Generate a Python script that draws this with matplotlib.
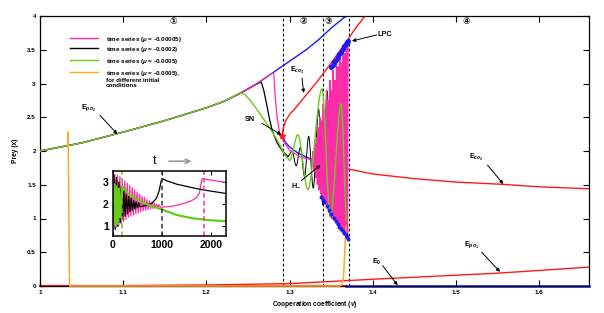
import matplotlib
matplotlib.use('Agg')
import matplotlib.pyplot as plt
from matplotlib.path import Path
from matplotlib.patches import PathPatch
from matplotlib.lines import Line2D

plt.rcParams['font.family'] = ['Liberation Sans', 'DejaVu Sans']
plt.rcParams['font.weight'] = 'bold'
plt.rcParams['mathtext.fontset'] = 'custom'
plt.rcParams['mathtext.rm'] = 'Liberation Sans:bold'
plt.rcParams['mathtext.it'] = 'Liberation Sans:bold:italic'
plt.rcParams['mathtext.bf'] = 'Liberation Sans:bold'

PINK = '#ff2ca8'
GREEN = '#66cc1a'
ORANGE = '#ffaa22'
BLUE = '#1a1aff'
RED = '#ff1a1a'

# equilibrium branches (cooperation coefficient, prey)
epo2_x = [1.0, 1.05, 1.1, 1.15, 1.2, 1.22, 1.24, 1.26, 1.28, 1.3, 1.32, 1.335, 1.35, 1.368, 1.38]
epo2_y = [2.0, 2.12, 2.28, 2.45, 2.64, 2.73, 2.85, 2.99, 3.16, 3.33, 3.5, 3.65, 3.82, 4.0, 4.13]

eco_up_x = [1.291, 1.292, 1.295, 1.3, 1.308, 1.32, 1.332, 1.345, 1.355, 1.363, 1.37, 1.38, 1.392, 1.40]
eco_up_y = [2.22, 2.32, 2.44, 2.54, 2.65, 2.83, 3.01, 3.22, 3.39, 3.53, 3.65, 3.83, 4.02, 4.15]

eco_low_x = [1.291, 1.295, 1.3, 1.31, 1.32, 1.33, 1.337]
eco_low_y = [2.22, 2.13, 2.06, 1.97, 1.91, 1.86, 1.83]

eco2_x = [1.337, 1.35, 1.368, 1.4, 1.45, 1.5, 1.55, 1.6, 1.66]
eco2_y = [1.83, 1.79, 1.74, 1.66, 1.59, 1.54, 1.51, 1.47, 1.44]

epo1_x = [1.0, 1.1, 1.2, 1.3, 1.4, 1.5, 1.55, 1.6, 1.66]
epo1_y = [0.0, 0.005, 0.015, 0.035, 0.1, 0.16, 0.19, 0.23, 0.28]

e0_red_x = [1.0, 1.368]
e0_blue_x = [1.368, 1.66]

sn_x, sn_y = 1.291, 2.22
dashed_x = [1.292, 1.340, 1.371]

# limit cycle extrema (blue dots)
lc_low_x = [1.338, 1.34, 1.342, 1.345, 1.347, 1.35, 1.353, 1.356, 1.358, 1.36, 1.362, 1.364, 1.366, 1.368, 1.369, 1.37]
lc_low_y = [1.32, 1.28, 1.24, 1.18, 1.13, 1.07, 1.01, 0.96, 0.92, 0.88, 0.85, 0.82, 0.79, 0.76, 0.73, 0.7]
lc_up_x = [1.35, 1.352, 1.354, 1.356, 1.358, 1.36, 1.362, 1.364, 1.366, 1.368, 1.369, 1.37]
lc_up_y = [3.25, 3.28, 3.32, 3.35, 3.39, 3.43, 3.47, 3.51, 3.55, 3.59, 3.61, 3.63]

# time series, mu = -0.00005 (pink)
pink_leave = 1.281
pink_drop_x = [1.281, 1.2825, 1.285, 1.288, 1.292, 1.3, 1.313, 1.3265]
pink_drop_y = [3.15, 2.85, 2.5, 2.27, 2.16, 2.01, 1.91, 1.87]
pink_osc_x = [1.3265, 1.3275, 1.3285, 1.3295, 1.3305, 1.3315, 1.3325, 1.3335, 1.3345, 1.3355,
              1.3365, 1.3375, 1.3385, 1.3395, 1.3405, 1.3415, 1.3425, 1.3435, 1.3445, 1.3455,
              1.3465, 1.3475, 1.3485, 1.3495, 1.3505, 1.3515, 1.3525, 1.3535, 1.3545, 1.3555,
              1.3565, 1.3575, 1.3585, 1.3595, 1.3605, 1.3615, 1.3625, 1.3635, 1.3645, 1.3655,
              1.3665, 1.3675, 1.3685, 1.3695, 1.3705]
pink_osc_y = [1.87, 1.8, 2.0, 1.7, 2.1, 1.6, 2.2, 1.5, 2.35, 1.42, 2.5, 1.36, 2.45, 1.3, 2.7,
              1.25, 2.6, 1.2, 2.9, 1.14, 2.75, 1.08, 3.05, 1.04, 2.9, 1.0, 3.2, 0.97, 3.05, 0.93,
              3.35, 0.9, 3.25, 0.87, 3.45, 0.84, 3.3, 0.8, 3.55, 0.78, 3.45, 0.75, 3.6, 0.72, 3.64]

# time series, mu = -0.0002 (black)
black_leave = 1.262
black_drop_x = [1.262, 1.266, 1.269, 1.273, 1.276, 1.279, 1.285, 1.292, 1.298]
black_drop_y = [3.0, 3.02, 2.9, 2.66, 2.47, 2.31, 2.12, 1.99, 1.92]
black_osc_x = [1.298, 1.303, 1.308, 1.313, 1.318, 1.323, 1.3285, 1.335, 1.340, 1.345,
               1.351, 1.357, 1.360, 1.363, 1.3655, 1.368, 1.37]
black_osc_y = [1.92, 2.0, 1.78, 2.05, 1.62, 2.22, 1.45, 2.62, 1.2, 2.89,
               1.0, 3.14, 0.9, 3.3, 0.82, 3.45, 0.76]

# time series, mu = -0.0005 (green)
green_leave = 1.24
green_drop_x = [1.24, 1.246, 1.252, 1.258, 1.264, 1.269, 1.274, 1.28, 1.287, 1.294, 1.30]
green_drop_y = [2.86, 2.84, 2.76, 2.66, 2.56, 2.47, 2.38, 2.27, 2.12, 1.95, 1.86]
green_osc_x = [1.30, 1.31, 1.322, 1.339, 1.349, 1.362, 1.369]
green_osc_y = [1.86, 2.24, 1.43, 2.92, 1.02, 2.7, 0.95]

# time series, other initial conditions (orange)
orange_x = [1.0335, 1.0338, 1.0355, 1.36, 1.363, 1.365, 1.366, 1.367, 1.368]
orange_y = [2.08, 2.28, 0.0, 0.0, 0.02, 0.15, 0.4, 0.7, 0.89]

# inset: time series against t
ins_pink_t = [0, 15, 40, 65, 90, 115, 140, 165, 190, 215, 240, 265, 290, 315, 340, 365, 390,
              415, 440, 465, 490, 515, 540, 565, 590, 615, 640, 665, 690, 715, 740, 765, 790,
              815, 840, 865, 890, 915, 940, 965, 1000, 1200, 1400, 1600, 1700, 1760, 1790,
              1815, 1900, 2100, 2300]
ins_pink_y = [2.0, 0.9, 3.35, 0.95, 3.3, 1.0, 3.25, 1.1, 3.15, 1.2, 3.05, 1.3, 2.95, 1.4, 2.85,
              1.45, 2.75, 1.5, 2.65, 1.55, 2.55, 1.6, 2.45, 1.65, 2.35, 1.7, 2.3, 1.72, 2.2, 1.75,
              2.15, 1.78, 2.1, 1.8, 2.05, 1.82, 2.0, 1.84, 1.97, 1.85, 1.86, 1.9, 2.0, 2.15, 2.3,
              2.5, 2.9, 3.15, 3.12, 3.05, 2.98]
ins_black_t = [0, 20, 45, 70, 95, 120, 145, 170, 195, 220, 245, 270, 295, 320, 345, 370, 395,
               420, 445, 470, 495, 520, 545, 600, 700, 800, 880, 940, 980, 1000, 1100, 1300,
               1500, 1700, 1900, 2100, 2300]
ins_black_y = [1.5, 3.3, 0.85, 3.2, 1.0, 3.0, 1.15, 2.8, 1.3, 2.6, 1.45, 2.45, 1.55, 2.35, 1.65,
               2.25, 1.72, 2.15, 1.78, 2.1, 1.83, 2.05, 1.87, 1.9, 1.95, 2.05, 2.25, 2.6, 3.05,
               3.15, 3.05, 2.9, 2.8, 2.7, 2.62, 2.55, 2.48]
ins_green_t = [0, 20, 45, 70, 95, 120, 145, 190, 250, 350, 500, 700, 1000, 1300, 1600, 2000, 2300]
ins_green_y = [2.0, 2.9, 1.0, 2.8, 1.1, 2.7, 1.4, 2.8, 2.65, 2.4, 2.18, 1.98, 1.75, 1.5, 1.36, 1.26, 1.22]
ins_dash_t = [190, 1000, 1850]

legend_labels = ['time series ($\\mu$ = -0.00005)', 'time series ($\\mu$ = -0.0002)',
                 'time series ($\\mu$ = -0.0005)',
                 'time series ($\\mu$ = -0.0005),\nfor different initial\nconditions']
region_labels = ['\u2460', '\u2461', '\u2462', '\u2463']
region_x = [1.16, 1.317, 1.347, 1.512]


def wave(ax, xs, ys, color, lw, z):
    # smooth oscillation through turning points (flat tangents at each extreme)
    verts = [(xs[0], ys[0])]
    codes = [Path.MOVETO]
    for i in range(1, len(xs)):
        dx = xs[i] - xs[i - 1]
        verts += [(xs[i - 1] + dx / 3, ys[i - 1]), (xs[i] - dx / 3, ys[i]), (xs[i], ys[i])]
        codes += [Path.CURVE4] * 3
    ax.add_patch(PathPatch(Path(verts, codes), fill=False, ec=color, lw=lw, zorder=z))


def follow(leave):
    xs = [x for x in epo2_x if x < leave]
    ys = [y for x, y in zip(epo2_x, epo2_y) if x < leave]
    return xs, ys


fig = plt.figure(figsize=(6.04, 3.13), dpi=100)
ax = fig.add_axes([40 / 604, 27 / 313, 549 / 604, 270 / 313])

# branches
ax.plot(epo2_x, epo2_y, color=BLUE, lw=1.0, zorder=2)
ax.plot(eco_up_x, eco_up_y, color=RED, lw=1.0, zorder=2)
ax.plot(eco_low_x, eco_low_y, color=BLUE, lw=1.0, zorder=2)
ax.plot(eco2_x, eco2_y, color=RED, lw=1.0, zorder=2)
ax.plot(epo1_x, epo1_y, color=RED, lw=1.0, zorder=2)
ax.plot(e0_red_x, [0, 0], color=RED, lw=1.6, zorder=2, clip_on=False)
ax.plot(e0_blue_x, [0, 0], color=BLUE, lw=1.8, zorder=2, clip_on=False)

for xd in dashed_x:
    ax.axvline(xd, color='black', lw=0.8, ls=(0, (2.5, 2)), zorder=1)

# time series
xs, ys = follow(black_leave)
ax.plot(xs + black_drop_x, ys + black_drop_y, color='black', lw=0.9, zorder=3)
wave(ax, black_osc_x, black_osc_y, 'black', 0.7, 3)
xs, ys = follow(pink_leave)
ax.plot(xs + pink_drop_x, ys + pink_drop_y, color=PINK, lw=0.9, zorder=4)
wave(ax, pink_osc_x, pink_osc_y, PINK, 1.0, 4)
xs, ys = follow(green_leave)
ax.plot(xs + green_drop_x, ys + green_drop_y, color=GREEN, lw=1.0, zorder=5)
wave(ax, green_osc_x, green_osc_y, GREEN, 1.0, 5)
ax.plot(orange_x, orange_y, color=ORANGE, lw=1.1, zorder=5, clip_on=False)

ax.scatter(lc_low_x, lc_low_y, s=8, color=BLUE, lw=0, zorder=6)
ax.scatter(lc_up_x, lc_up_y, s=14, color=BLUE, lw=0, zorder=6)
ax.plot([sn_x], [sn_y], marker='*', color=RED, ms=4, zorder=7)

ax.set_xlim(1, 1.66)
ax.set_ylim(0, 4)
xt = [1, 1.1, 1.2, 1.3, 1.4, 1.5, 1.6]
ax.set_xticks(xt)
ax.set_xticklabels(['1', '1.1', '1.2', '1.3', '1.4', '1.5', '1.6'])
yt = [0, 0.5, 1, 1.5, 2, 2.5, 3, 3.5, 4]
ax.set_yticks(yt)
ax.set_yticklabels(['0', '0.5', '1', '1.5', '2', '2.5', '3', '3.5', '4'])
ax.tick_params(direction='in', top=True, right=True, length=4, width=0.8, labelsize=4.5, pad=3)
for s in ax.spines.values():
    s.set_linewidth(0.9)
ax.set_xlabel('Cooperation coefficient ($\\nu$)', fontsize=4.8, fontweight='bold', labelpad=3)
ax.set_ylabel('Prey (x)', fontsize=4.8, fontweight='bold', labelpad=6)

for lab, rx in zip(region_labels, region_x):
    ax.text(rx, 3.92, lab, ha='center', va='center', fontsize=6.5,
            family=['DejaVu Sans', 'Noto Sans CJK JP'], zorder=8)

# legend drawn by hand
leg_colors = [PINK, 'black', GREEN, ORANGE]
leg_y = [0.919, 0.881, 0.837, 0.793]
for c, lab, ly in zip(leg_colors, legend_labels, leg_y):
    ax.add_line(Line2D([0.055, 0.105], [ly, ly], color=c, lw=1.0, transform=ax.transAxes))
    ax.text(0.12, ly + 0.012, lab, transform=ax.transAxes, fontsize=4.5, va='top', ha='left',
            linespacing=1.1, fontweight='bold')

arr = dict(arrowstyle='-|>', color='black', lw=0.7, mutation_scale=5, shrinkA=0, shrinkB=0)
notes = [
    ('E$_{po_2}$', (1.058, 2.64), (1.072, 2.53), (1.093, 2.25)),
    ('SN', (1.252, 2.47), (1.267, 2.41), (1.29, 2.24)),
    ('E$_{co_1}$', (1.309, 3.2), (1.315, 3.08), (1.317, 2.86)),
    ('LPC', (1.414, 3.73), (1.405, 3.72), (1.375, 3.63)),
    ('H$_{-}$', (1.308, 1.5), (1.314, 1.56), (1.337, 1.79)),
    ('E$_{co_2}$', (1.525, 1.91), (1.538, 1.79), (1.557, 1.51)),
    ('E$_{po_1}$', (1.519, 0.61), (1.531, 0.5), (1.553, 0.21)),
    ('E$_0$', (1.405, 0.36), (1.412, 0.3), (1.43, 0.01)),
]
for txt, tpos, a0, a1 in notes:
    ax.text(tpos[0], tpos[1], txt, fontsize=5.2, ha='center', va='center', zorder=9)
    ax.annotate('', xy=a1, xytext=a0, arrowprops=arr, zorder=9)

# inset with time series
ins = fig.add_axes([113 / 604, 77 / 313, 113 / 604, 65 / 313])
ins.plot(ins_pink_t, ins_pink_y, color=PINK, lw=0.9)
ins.plot(ins_black_t, ins_black_y, color='black', lw=0.9)
ins.plot(ins_green_t, ins_green_y, color=GREEN, lw=1.6)
for td, c in zip(ins_dash_t, [GREEN, '#333333', PINK]):
    ins.axvline(td, color=c, lw=1.1, ls=(0, (3, 2)))
ins.set_xlim(0, 2300)
ins.set_ylim(0.55, 3.5)
ins.set_xticks([0, 1000, 2000])
ins.set_yticks([1, 2, 3])
ins.tick_params(direction='in', top=True, right=True, length=3, width=0.8, labelsize=7.5, pad=3)
for s in ins.spines.values():
    s.set_linewidth(1.1)
ins.text(0.37, 1.15, 't', transform=ins.transAxes, fontsize=9, fontweight='normal',
         ha='center', va='center')
ins.annotate('', xy=(0.72, 1.15), xytext=(0.47, 1.15), xycoords='axes fraction',
             arrowprops=dict(arrowstyle='->', color='#999999', lw=1.2, mutation_scale=8))

fig.savefig('out.png', dpi=100)
